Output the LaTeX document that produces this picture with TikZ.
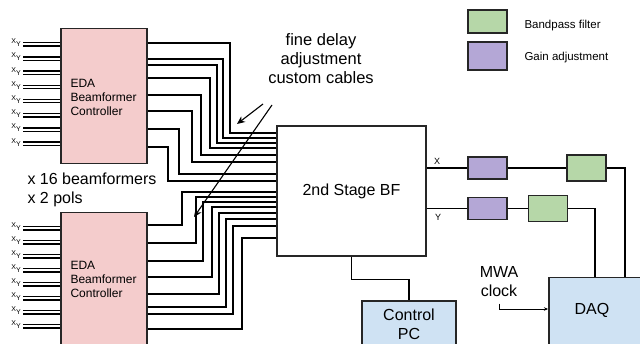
\documentclass[tikz,border=0pt]{standalone}
\usepackage{fontspec}
\setmainfont{Liberation Sans}
\usetikzlibrary{positioning,arrows.meta}

\definecolor{edapink}{HTML}{F4CCCC}
\definecolor{ctrlblue}{HTML}{CFE2F3}
\definecolor{bpgreen}{HTML}{B6D7A8}
\definecolor{gainpurple}{HTML}{B4A7D6}

\tikzset{
  box/.style={draw=black!85, line width=1.5pt, inner sep=0pt},
  edabox/.style={box, fill=edapink, minimum width=86pt, anchor=north west},
  gainbox/.style={box, fill=gainpurple, minimum width=39pt, minimum height=22pt},
  bpbox/.style={box, fill=bpgreen, minimum width=39pt, minimum height=26pt},
  cable/.style={line width=1.3pt},
  bigtext/.style={font=\fontsize{16}{19}\selectfont},
  midtext/.style={font=\fontsize{16.5}{19}\selectfont},
  edatext/.style={font=\fontsize{12}{14}\selectfont, align=left, anchor=west},
  smalltext/.style={font=\fontsize{11.5}{13}\selectfont, anchor=west},
  chan/.style={font=\fontsize{9}{10}\selectfont},
  pol/.style={font=\fontsize{7}{8}\selectfont, inner sep=0pt, anchor=east},
}

\begin{document}
\begin{tikzpicture}[x=1pt, y=-1pt]
\useasboundingbox (0,0) rectangle (640,344);

% First stage beamformers
\node[edabox, minimum height=135pt] (edaA) at (60,28) {};
\node[edabox, minimum height=150pt] (edaB) at (60,212) {};
\node[edatext] (edaAtext) at (67,97) {EDA\\Beamformer\\Controller};
\node[edatext] (edaBtext) at (67,279) {EDA\\Beamformer\\Controller};

% Inputs (X and Y pol of each tile)
\foreach \k in {0,...,7} {
    \pgfmathsetmacro\ya{42.7+14.2*\k}
    \pgfmathsetmacro\yb{226.7+14*\k}
    \draw[cable] (edaA.west |- 0,\ya) -- ++(-37,0);
    \draw[cable] (edaA.west |- 0,\ya+3.3) -- ++(-37,0);
    \node[pol] (polA\k) at (21,\ya) {X\raisebox{-3pt}{Y}};
    \draw[cable] (edaB.west |- 0,\yb) -- ++(-37,0);
    \draw[cable] (edaB.west |- 0,\yb+3.3) -- ++(-37,0);
    \node[pol] (polB\k) at (21,\yb) {X\raisebox{-3pt}{Y}};
}

\node[bigtext, align=left, anchor=west] (count) at (24,190) {x 16 beamformers\\x 2 pols};

% Second stage
\node[box, minimum width=149pt, minimum height=130pt, bigtext] (bf) at (351.5,191) {2nd Stage BF};

% Custom cables, top group
\foreach \sy/\vx/\ey in {43/230/133, 59/223/138, 65/217/143, 78/210/148,
                         95/201/155, 111/192/162, 129/179/174, 147/168/181} {
    \draw[cable] (edaA.east |- 0,\sy) -| (\vx,\ey) -- (bf.west |- 0,\ey);
}

% Custom cables, bottom group
\foreach \sy/\vx/\ey in {225/182/192, 243/196/197, 261/203/202, 277/212/207,
                         294/219/213, 307/226/219, 314/233/226, 329/242/238} {
    \draw[cable] (edaB.east |- 0,\sy) -| (\vx,\ey) -- (bf.west |- 0,\ey);
}

\node[midtext, align=center] (finedelay) at (321,59) {fine delay\\adjustment\\custom cables};
\coordinate (arrAstart) at (263,104);
\coordinate (arrAend) at (237,124);
\coordinate (arrBstart) at (272,105);
\coordinate (arrBend) at (194,217);
\draw[line width=1.1pt, -{Stealth[length=8pt, width=7pt]}] (arrAstart) -- (arrAend);
\draw[line width=1.1pt, -{Stealth[length=8pt, width=7pt]}] (arrBstart) -- (arrBend);

% Control PC and DAQ
\node[box, fill=ctrlblue, minimum width=94pt, minimum height=46pt, align=center, bigtext] (ctrl) at (409,324) {Control\\PC};
\node[box, fill=ctrlblue, minimum width=120pt, minimum height=90pt, anchor=north west] (daq) at (548,277) {};
\node[bigtext] (daqtext) at (592,310) {DAQ};

\draw[cable] (bf.south) -- ++(0,23) -| (ctrl.north);

% Gain and bandpass chain
\node[gainbox] (gainX) at (487.5,168) {};
\node[bpbox] (bpX) at (586.5,168) {};
\node[gainbox] (gainY) at (487.5,208.5) {};
\node[bpbox] (bpY) at (548,208.5) {};

\draw[cable] (bf.east |- gainX.west) -- (gainX.west);
\draw[cable] (gainX.east) -- (bpX.west);
\draw[cable] (bpX.east) -| ([xshift=77pt]daq.north west);
\draw[cable] (bf.east |- gainY.west) -- (gainY.west);
\draw[cable] (gainY.east) -- (bpY.west);
\draw[cable] (bpY.east) -| ([xshift=47pt]daq.north west);
\node[chan] (xlab) at (437,161) {X};
\node[chan] (ylab) at (438,217) {Y};

% MWA clock
\node[bigtext, align=center] (mwa) at (499,282) {MWA\\clock};
\draw[line width=0.6pt, -{Stealth[length=4pt, width=3.5pt]}] ([yshift=-3pt]mwa.south) |- ([yshift=-32pt]daq.north west);

% Legend
\node[bpbox, minimum height=23pt] (legbp) at (487.5,21.5) {};
\node[gainbox, minimum height=28pt] (leggain) at (487.5,56) {};
\node[smalltext] (legbptext) at (521,26) {Bandpass filter};
\node[smalltext] (leggaintext) at (521,58) {Gain adjustment};

\end{tikzpicture}
\end{document}
